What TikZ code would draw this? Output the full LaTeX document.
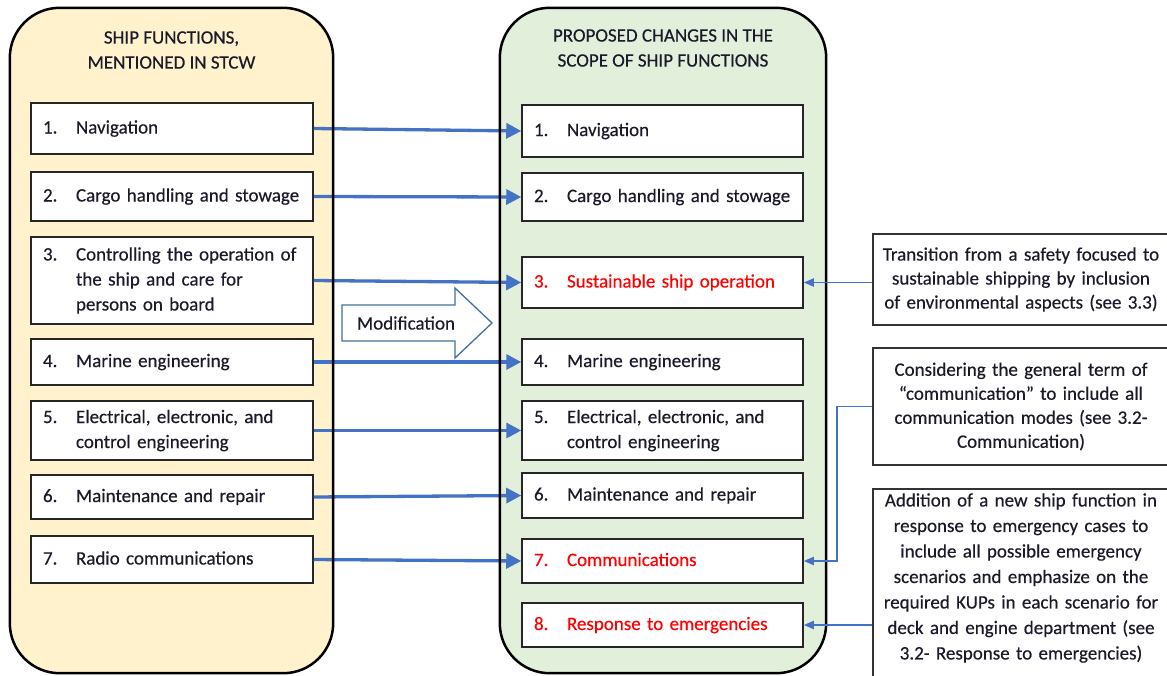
\documentclass[tikz,border=0pt]{standalone}
\usepackage{fontspec}
\setmainfont{Carlito}[FakeBold=0.35]
\usetikzlibrary{arrows.meta}
\definecolor{leftfill}{HTML}{FFF2CC}
\definecolor{rightfill}{HTML}{E2EFDA}
\definecolor{arrowblue}{HTML}{4472C4}
\definecolor{modblue}{HTML}{41719C}
\definecolor{itemred}{HTML}{FF0000}
\definecolor{inkdark}{HTML}{1A1A2A}
\newcommand{\itm}[2]{\begin{tabular}{@{}p{33pt}@{}l@{}}#1&#2\end{tabular}}
\begin{document}
\begin{tikzpicture}[x=1pt,y=-1pt,
  txt/.style={font=\fontsize{19}{25}\selectfont, text=inkdark},
  panelfill/.style={rounded corners=50pt, inner sep=0pt},
  panelborder/.style={draw=black, line width=2.5pt, rounded corners=50pt},
  item/.style={txt, draw=black!85, line width=1.5pt, fill=white, inner xsep=12pt, inner ysep=0pt, align=left},
  litem/.style={item, minimum width=282pt, text width=258pt},
  ritem/.style={item, minimum width=281pt, text width=257pt},
  hdr/.style={txt, align=center, inner sep=0pt},
  annot/.style={draw=black!80, line width=1.3pt, fill=white, inner sep=0pt, minimum width=296pt},
  antext/.style={font=\fontsize{19}{24}\selectfont, text=inkdark, align=center, text width=285pt, inner sep=0pt},
  bigarrow/.style={draw=arrowblue, line width=3.3pt, -{Triangle[length=15pt,width=15pt]}},
  thinarrow/.style={draw=arrowblue, line width=1.8pt, -{Triangle[length=10pt,width=8pt]}},
]
\useasboundingbox (0,0) rectangle (1167,675);

% panels (fill)
\node[panelfill, fill=leftfill, minimum width=323pt, minimum height=665pt] (lpanel) at (171.5,340.5) {};
\node[panelfill, fill=rightfill, minimum width=326pt, minimum height=665pt] (rpanel) at (663,340.5) {};

% headers
\node[hdr] (lhdr) at (171.5,50) {SHIP FUNCTIONS,\\MENTIONED IN STCW};
\node[hdr] (rhdr) at (663,48) {PROPOSED CHANGES IN THE\\SCOPE OF SHIP FUNCTIONS};

% left items
\node[litem, minimum height=51pt] (l1) at (172,128.5) {\itm{1.}{Navigation}};
\node[litem, minimum height=49pt] (l2) at (172,196.5) {\itm{2.}{Cargo handling and stowage}};
\node[litem, minimum height=87pt] (l3) at (172,280.5) {\itm{3.}{Controlling the operation of\\&the ship and care for\\&persons on board}};
\node[litem, minimum height=46pt] (l4) at (172,362) {\itm{4.}{Marine engineering}};
\node[litem, minimum height=59pt] (l5) at (172,430.5) {\itm{5.}{Electrical, electronic, and\\&control engineering}};
\node[litem, minimum height=44pt] (l6) at (172,497) {\itm{6.}{Maintenance and repair}};
\node[litem, minimum height=47pt] (l7) at (172,559.5) {\itm{7.}{Radio communications}};

% right items
\node[ritem, minimum height=52pt] (r1) at (662.5,131) {\itm{1.}{Navigation}};
\node[ritem, minimum height=48pt] (r2) at (662.5,197) {\itm{2.}{Cargo handling and stowage}};
\node[ritem, minimum height=51pt, text=itemred] (r3) at (662.5,282.5) {\itm{3.}{Sustainable ship operation}};
\node[ritem, minimum height=46pt] (r4) at (662.5,362) {\itm{4.}{Marine engineering}};
\node[ritem, minimum height=59pt] (r5) at (662.5,430.5) {\itm{5.}{Electrical, electronic, and\\&control engineering}};
\node[ritem, minimum height=45pt] (r6) at (662.5,495.5) {\itm{6.}{Maintenance and repair}};
\node[ritem, minimum height=44pt, text=itemred] (r7) at (662.5,561) {\itm{7.}{Communications}};
\node[ritem, minimum height=44pt, text=itemred] (r8) at (662.5,625) {\itm{8.}{Response to emergencies}};

% main arrows
\foreach \i in {1,...,7}{
  \draw[bigarrow] (l\i.east) -- (r\i.west);
}

% panel borders (over the arrows)
\path[panelborder] (lpanel.north west) rectangle (lpanel.south east);
\path[panelborder] (rpanel.north west) rectangle (rpanel.south east);

% modification block arrow
\draw[modblue, line width=1.3pt, fill=white, line join=miter]
  (342,305) -- (455,305) -- (455,288) -- (492,323) -- (455,358) -- (455,341) -- (342,341) -- cycle;
\node[txt] (mod) at (406,323) {Modification};

% annotation boxes
\node[annot, antext, minimum height=91pt] (aA) at (1021,279.5)
  {Transition from a safety focused to\\sustainable shipping by inclusion\\of environmental aspects (see 3.3)};
\node[annot, antext, minimum height=117pt] (aB) at (1021,406.5)
  {Considering the general term of\\“communication” to include all\\communication modes (see 3.2-\\Communication)};
\node[annot, minimum height=211pt] (aC) at (1021,594.5) {};
\node[antext, font=\fontsize{19}{25.5}\selectfont] (tC) at (1021,578)
  {Addition of a new ship function in\\response to emergency cases to\\include all possible emergency\\scenarios and  emphasize on the\\required KUPs in each scenario for\\deck and engine department (see\\3.2- Response to emergencies)};

% annotation connectors
\draw[thinarrow] (aA.west |- r3.east) -- (r3.east);
\draw[thinarrow] (aB.west) -- ++(-35,0) |- (r7.east);
\draw[thinarrow] (aC.west |- r8.east) -- (r8.east);
\end{tikzpicture}
\end{document}
